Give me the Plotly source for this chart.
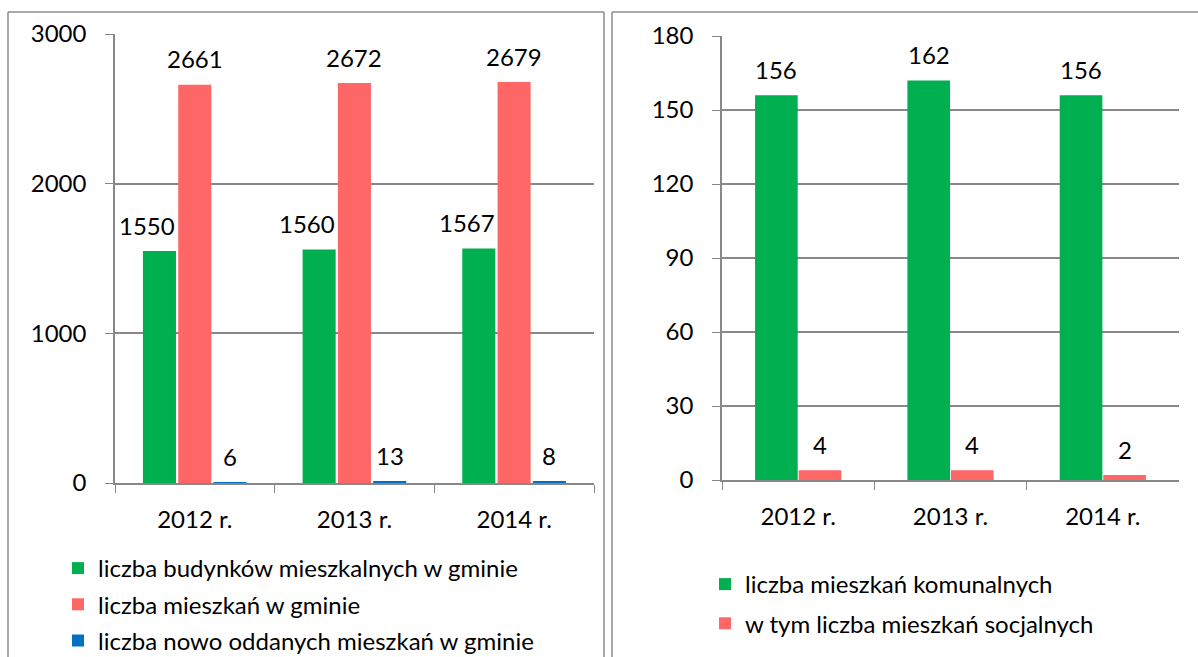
import plotly.graph_objects as go

# left chart: buildings / flats in the municipality
years = ["2012 r.", "2013 r.", "2014 r."]
budynki = [1550, 1560, 1567]
mieszkania = [2661, 2672, 2679]
nowe = [6, 13, 8]
left_names = [
    "liczba budynków mieszkalnych w gminie",
    "liczba mieszkań w gminie",
    "liczba nowo oddanych mieszkań w gminie",
]

# right chart: municipal / social flats
komunalne = [156, 162, 156]
socjalne = [4, 4, 2]
right_names = [
    "liczba mieszkań komunalnych",
    "w tym liczba mieszkań socjalnych",
]

GREEN = "#00B050"
RED = "#FF6666"
BLUE = "#0070C0"
GRID = "#888888"
BORDER = "#8C8C8C"
FONT = "Lato"
FS = 24

# the page is 657 px tall; the figure runs a little past it so the
# legends sit fully inside the paper (the original is cropped there too)
W, H = 1198, 700


def px_x(v):
    return v / W


def px_y(v):
    return 1 - v / H


fig = go.Figure()

left_series = [
    (budynki, GREEN, -0.325, -12),
    (mieszkania, RED, -0.104, 0),
    (nowe, BLUE, 0.117, 0),
]
left_w = 0.207
for k, ((vals, color, off, xs), name) in enumerate(zip(left_series, left_names)):
    fig.add_trace(go.Bar(
        x=years, y=vals, name=name, marker=dict(color=color, line=dict(width=0)),
        width=left_w, offset=off, xaxis="x", yaxis="y", legend="legend",
        legendgroup=f"l{k}", hoverinfo="y",
    ))
    for i, v in enumerate(vals):
        fig.add_annotation(
            x=i + off + left_w / 2, y=v, xref="x", yref="y", text=str(v),
            showarrow=False, yanchor="middle", yshift=26, xshift=xs,
            font=dict(size=FS, color="black", family=FONT),
        )

right_series = [
    (komunalne, GREEN, -0.283),
    (socjalne, RED, 0.003),
]
right_w = 0.28
for k, ((vals, color, off), name) in enumerate(zip(right_series, right_names)):
    fig.add_trace(go.Bar(
        x=years, y=vals, name=name, marker=dict(color=color, line=dict(width=0)),
        width=right_w, offset=off, xaxis="x2", yaxis="y2", legend="legend2",
        legendgroup=f"r{k}", hoverinfo="y",
    ))
    for i, v in enumerate(vals):
        fig.add_annotation(
            x=i + off + right_w / 2, y=v, xref="x2", yref="y2", text=str(v),
            showarrow=False, yanchor="middle", yshift=26,
            font=dict(size=FS, color="black", family=FONT),
        )

xaxis_common = dict(
    type="category", tickson="boundaries", ticks="outside", ticklen=8,
    tickcolor=GRID, showline=True, linecolor=GRID, linewidth=1.5,
    showgrid=False, ticklabelstandoff=14, automargin=False,
    tickfont=dict(size=FS, color="black", family=FONT),
)
yaxis_common = dict(
    ticks="outside", ticklen=8, tickcolor=GRID, showline=True,
    linecolor=GRID, linewidth=1.5, showgrid=True, gridcolor=GRID,
    gridwidth=1.5, zeroline=False, ticklabelstandoff=14, automargin=False,
    tickfont=dict(size=FS, color="black", family=FONT),
)

fig.update_layout(
    width=W, height=H,
    margin=dict(l=0, r=0, t=0, b=0, autoexpand=False),
    paper_bgcolor="white", plot_bgcolor="white",
    font=dict(family=FONT, size=FS, color="black"),
    xaxis=dict(domain=[px_x(115), px_x(594)], anchor="y", **xaxis_common),
    yaxis=dict(domain=[px_y(483), px_y(34)], anchor="x", range=[0, 3000],
               tickvals=[0, 1000, 2000, 3000], **yaxis_common),
    xaxis2=dict(domain=[px_x(722), px_x(1179)], anchor="y2", **xaxis_common),
    yaxis2=dict(domain=[px_y(480), px_y(36)], anchor="x2", range=[0, 180],
                tickvals=[0, 30, 60, 90, 120, 150, 180], **yaxis_common),
    legend=dict(x=px_x(58), y=px_y(546), xanchor="left", yanchor="top",
                font=dict(size=FS, family=FONT), bgcolor="rgba(0,0,0,0)",
                traceorder="grouped", tracegroupgap=2, itemclick=False),
    legend2=dict(x=px_x(705), y=px_y(562), xanchor="left", yanchor="top",
                 font=dict(size=FS, family=FONT), bgcolor="rgba(0,0,0,0)",
                 traceorder="grouped", tracegroupgap=5, itemclick=False),
    showlegend=True,
)

# panel frames (open at the bottom / right, as in the cropped original)
frame = dict(type="line", xref="paper", yref="paper",
             line=dict(color=BORDER, width=1.5))
fig.add_shape(x0=px_x(8), x1=px_x(8), y0=0, y1=px_y(12), **frame)
fig.add_shape(x0=px_x(8), x1=px_x(604), y0=px_y(12), y1=px_y(12), **frame)
fig.add_shape(x0=px_x(604), x1=px_x(604), y0=0, y1=px_y(12), **frame)
fig.add_shape(x0=px_x(612), x1=px_x(612), y0=0, y1=px_y(12), **frame)
fig.add_shape(x0=px_x(612), x1=1, y0=px_y(12), y1=px_y(12), **frame)

fig.write_html(
    "out.html",
    config={"displayModeBar": False},
    post_script="document.body.style.margin = '0';",
)
